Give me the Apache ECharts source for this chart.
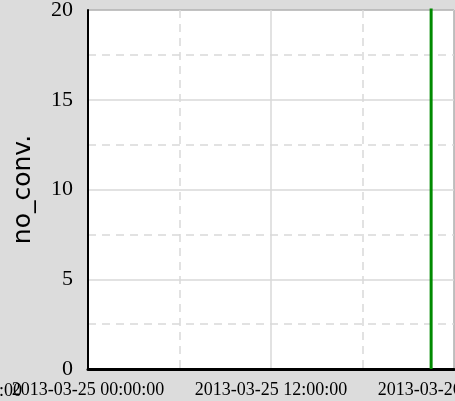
<!DOCTYPE html>
<html><head><meta charset="utf-8">
<script src="https://cdn.jsdelivr.net/npm/echarts@6/dist/echarts.min.js"></script>
<style>html,body{margin:0;padding:0;background:#dcdcdc;}#c{width:455px;height:401px;}</style>
</head><body><div id="c"></div>
<script>
const xRange = ['2013-03-25 00:00:00', '2013-03-26 00:00:00'];
const spikeTimes = ['2013-03-25 22:30:00', '2013-03-25 22:30:00'];
const spikeValues = [0, 25];
const yTicks = [0, 5, 10, 15, 20];

function toMs(s){const [d,t]=s.split(' ');const [Y,M,D]=d.split('-').map(Number);const [h,m,sec]=t.split(':').map(Number);return Date.UTC(Y,M-1,D,h,m,sec);}
function p2(n){return (n<10?'0':'')+n;}
function fmt(ms){const d=new Date(ms);return d.getUTCFullYear()+'-'+p2(d.getUTCMonth()+1)+'-'+p2(d.getUTCDate())+' '+p2(d.getUTCHours())+':'+p2(d.getUTCMinutes())+':'+p2(d.getUTCSeconds());}

const chart = echarts.init(document.getElementById('c'));
chart.setOption({
  backgroundColor: '#dcdcdc',
  animation: false,
  grid: {left: 88, right: 1, top: 10, bottom: 32, containLabel: false, outerBoundsMode: 'none', show: true, backgroundColor: '#fff', borderColor: '#000', borderWidth: 1},
  xAxis: {
    type: 'value', min: toMs(xRange[0]), max: toMs(xRange[1]), interval: 12*3600*1000,
    axisLine: {show: true, onZero: false, lineStyle: {color: '#000', width: 3}},
    axisTick: {show: false},
    axisLabel: {formatter: v => fmt(v), fontFamily: 'Liberation Serif', fontSize: 18, color: '#000', margin: 12, hideOverlap: false},
    splitLine: {show: true, lineStyle: {color: '#d9d9d9', width: 1.5}},
    minorTick: {show: false, splitNumber: 2},
    minorSplitLine: {show: true, lineStyle: {color: '#d9d9d9', type: [8, 6], width: 1.5}}
  },
  yAxis: {
    type: 'value', min: yTicks[0], max: yTicks[yTicks.length-1], interval: 5,
    name: 'no_conv.', nameLocation: 'middle', nameRotate: 90, nameGap: 52,
    nameTextStyle: {fontFamily: 'DejaVu Sans', fontSize: 25, color: '#000'},
    axisLine: {show: true, lineStyle: {color: '#000', width: 2}},
    axisTick: {show: false},
    axisLabel: {fontFamily: 'Liberation Serif', fontSize: 22, color: '#000', margin: 15},
    splitLine: {show: true, lineStyle: {color: '#d9d9d9', width: 1.5}},
    minorTick: {show: false, splitNumber: 2},
    minorSplitLine: {show: true, lineStyle: {color: '#d9d9d9', type: [8, 6], width: 1.5}}
  },
  graphic: [{type: 'text', right: 433, top: 382, style: {text: '2013-03-24 18:00:00', font: '18px "Liberation Serif"', fill: '#000'}}],
  series: [{
    type: 'line', symbol: 'none', clip: true,
    data: spikeTimes.map((t,i)=>[toMs(t), spikeValues[i]]),
    lineStyle: {color: '#008a00', width: 3}
  }]
});
</script></body></html>
